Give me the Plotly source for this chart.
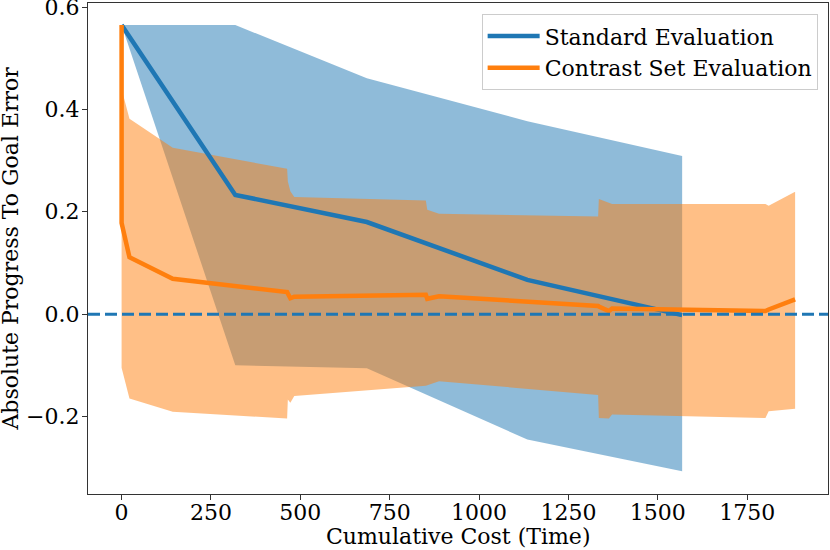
import plotly.graph_objects as go

# Standard Evaluation
std_x = [0, 318, 686, 1135, 1568]
std_mean = [0.565, 0.233, 0.180, 0.067, -0.002]
std_upper = [0.565, 0.565, 0.461, 0.377, 0.309]
std_lower = [0.565, -0.100, -0.106, -0.245, -0.307]

# Contrast Set Evaluation
con_x = [0, 0, 22, 143, 463, 465, 472, 483, 851, 855, 888, 1333, 1335, 1363, 1372, 1801, 1810, 1884]
con_mean = [0.565, 0.178, 0.111, 0.069, 0.043, 0.040, 0.031, 0.034, 0.038, 0.030, 0.035,
            0.016, 0.015, 0.006, 0.011, 0.006, 0.009, 0.029]
con_upper = [0.565, 0.44, 0.382, 0.325, 0.284, 0.259, 0.240, 0.229, 0.222, 0.204, 0.196,
             0.191, 0.225, 0.217, 0.215, 0.215, 0.212, 0.239]
con_lower = [0.565, -0.105, -0.165, -0.191, -0.204, -0.167, -0.173, -0.160, -0.140, -0.140, -0.131,
             -0.158, -0.203, -0.204, -0.196, -0.203, -0.190, -0.185]

x_ticks = [0, 250, 500, 750, 1000, 1250, 1500, 1750]
y_ticks = [-0.2, 0.0, 0.2, 0.4, 0.6]

BLUE = "#1f77b4"
ORANGE = "#ff7f0e"
FONT = "DejaVu Serif"
FS = 22

fig = go.Figure()

fig.add_trace(go.Scatter(
    x=std_x + std_x[::-1], y=std_upper + std_lower[::-1],
    fill="toself", fillcolor="rgba(31,119,180,0.5)", line=dict(width=0),
    mode="lines", showlegend=False, hoverinfo="skip"))
fig.add_trace(go.Scatter(
    x=con_x + con_x[::-1], y=con_upper + con_lower[::-1],
    fill="toself", fillcolor="rgba(255,127,14,0.5)", line=dict(width=0),
    mode="lines", showlegend=False, hoverinfo="skip"))

fig.add_trace(go.Scatter(
    x=std_x, y=std_mean, mode="lines", name="Standard Evaluation",
    line=dict(color=BLUE, width=4.5)))
fig.add_trace(go.Scatter(
    x=con_x, y=con_mean, mode="lines", name="Contrast Set Evaluation",
    line=dict(color=ORANGE, width=4.5)))

fig.add_shape(type="line", xref="paper", yref="y", x0=0, x1=1, y0=0, y1=0,
              line=dict(color=BLUE, width=3, dash="12px,5px"))

fig.add_annotation(text="Cumulative Cost (Time)", xref="paper", yref="paper",
                   x=0.5, y=-0.0866, xanchor="center", yanchor="middle", showarrow=False,
                   font=dict(family=FONT, size=FS, color="black"))
fig.add_annotation(text="Absolute Progress To Goal Error", xref="paper", yref="paper",
                   x=-0.1053, y=0.5, xanchor="center", yanchor="middle", showarrow=False,
                   textangle=-90, font=dict(family=FONT, size=FS, color="black"))

fig.update_layout(
    width=830, height=550,
    margin=dict(l=88, r=2, t=3, b=56, autoexpand=False),
    plot_bgcolor="white", paper_bgcolor="white",
    font=dict(family=FONT, size=FS, color="black"),
    legend=dict(x=0.986, y=0.977, xanchor="right", yanchor="top", itemwidth=52,
                bgcolor="rgba(255,255,255,0.8)", bordercolor="#cccccc", borderwidth=1,
                font=dict(family=FONT, size=FS)),
    xaxis=dict(range=[-94, 1976], tickvals=x_ticks, ticktext=[str(v) for v in x_ticks],
               showgrid=False, zeroline=False, showline=True, mirror=True, automargin=False,
               linecolor="#333333", linewidth=1.2, ticks="outside", ticklen=5,
               tickcolor="#333333", tickfont=dict(family=FONT, size=FS), ticklabelstandoff=-7,
               ticklabeloverflow="allow"),
    yaxis=dict(range=[-0.3515, 0.608], tickvals=y_ticks, tickformat=".1f",
               showgrid=False, zeroline=False, showline=True, mirror=True, automargin=False,
               linecolor="#333333", linewidth=1.2, ticks="outside", ticklen=5,
               tickcolor="#333333", tickfont=dict(family=FONT, size=FS), ticklabelstandoff=-2,
               ticklabeloverflow="allow"),
)

fig.write_html("out.html", config={"displayModeBar": False},
               post_script="document.body.style.margin='0';document.body.style.overflow='hidden';")
